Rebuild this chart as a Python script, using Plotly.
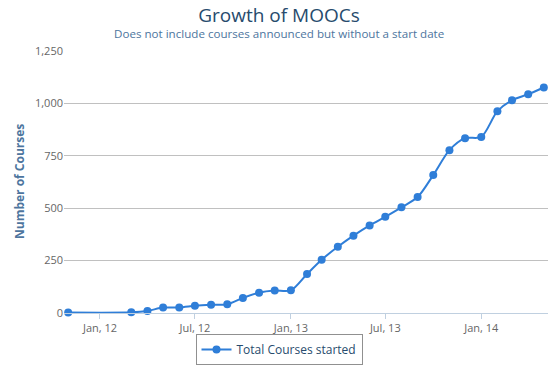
import plotly.graph_objects as go

dates = ["2011-11-01", "2012-03-01", "2012-04-01", "2012-05-01", "2012-06-01",
         "2012-07-01", "2012-08-01", "2012-09-01", "2012-10-01", "2012-11-01",
         "2012-12-01", "2013-01-01", "2013-02-01", "2013-03-01", "2013-04-01",
         "2013-05-01", "2013-06-01", "2013-07-01", "2013-08-01", "2013-09-01",
         "2013-10-01", "2013-11-01", "2013-12-01", "2014-01-01", "2014-02-01",
         "2014-03-01", "2014-04-01", "2014-05-01"]
courses = [2, 3, 10, 26, 26, 34, 39, 42, 72, 97,
           107, 108, 186, 254, 316, 369, 418, 459, 504, 553,
           658, 777, 834, 840, 963, 1015, 1044, 1076]

tick_vals = ["2012-01-01", "2012-07-01", "2013-01-01", "2013-07-01", "2014-01-01"]
tick_text = ["Jan, 12", "Jul, 12", "Jan, 13", "Jul, 13", "Jan, 14"]
y_ticks = [0, 250, 500, 750, 1000, 1250]

FONT = "Open Sans, Lucida Grande, Verdana, Arial, sans-serif"

fig = go.Figure()
fig.add_trace(go.Scatter(
    x=dates, y=courses, name="Total Courses started",
    mode="lines+markers",
    line=dict(color="#2f7ed8", width=2, shape="spline", smoothing=0.8),
    marker=dict(color="#2f7ed8", size=8, line=dict(width=0)),
    cliponaxis=False,
))

fig.update_layout(
    width=558, height=372,
    margin=dict(l=64, r=10, t=51, b=59, autoexpand=False),
    paper_bgcolor="white", plot_bgcolor="white",
    font=dict(family=FONT, size=11, color="#666666"),
    title=dict(text="Growth of MOOCs", x=0.5, xref="container", xanchor="center",
               y=1 - 15 / 372, yref="container", yanchor="middle",
               font=dict(size=19, color="#274b6d", family=FONT)),
    showlegend=True,
    legend=dict(orientation="h", x=(279 - 64) / 484, xanchor="center",
                y=(313 - 334) / 262, yanchor="top",
                bordercolor="#909090", borderwidth=1,
                itemwidth=30, tracegroupgap=0,
                font=dict(size=12, color="#274b6d", family=FONT)),
    xaxis=dict(type="date", range=["2011-10-24", "2014-05-09"],
               tickvals=tick_vals, ticktext=tick_text,
               showgrid=False, zeroline=False,
               showline=True, linecolor="#C0D0E0", linewidth=1,
               ticks="outside", ticklen=5, tickcolor="#C0D0E0",
               tickfont=dict(size=11, color="#666666")),
    yaxis=dict(range=[0, 1250], tickvals=y_ticks, tickformat=",",
               showgrid=True, gridcolor="#C0C0C0", gridwidth=1,
               zeroline=False, showline=False, ticks="",
               tickfont=dict(size=11, color="#666666")),
    annotations=[
        dict(text="Does not include courses announced but without a start date",
             xref="paper", yref="paper", x=(279 - 64) / 484, y=1 + 17 / 262,
             xanchor="center", yanchor="middle", showarrow=False,
             font=dict(size=11.6, color="#4d759e", family=FONT)),
        dict(text="<b>Number of Courses</b>", textangle=-90,
             xref="paper", yref="paper", x=(19 - 64) / 484, y=0.5,
             xanchor="center", yanchor="middle", showarrow=False,
             font=dict(size=12, color="#4d759e", family=FONT)),
    ],
)

fig.write_html("out.html",
               config={"displayModeBar": False},
               post_script="document.body.style.margin='0';document.body.style.overflow='hidden';")
